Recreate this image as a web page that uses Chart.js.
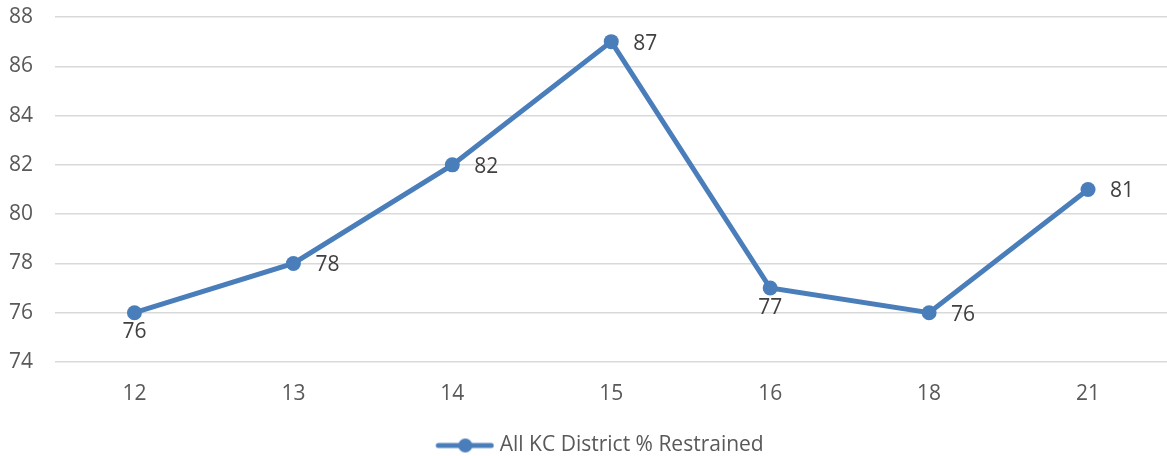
<!DOCTYPE html>
<html>
<head>
<meta charset="utf-8">
<script src="https://cdn.jsdelivr.net/npm/chart.js@4/dist/chart.umd.min.js"></script>
<style>
  html, body { margin: 0; padding: 0; background: #fff; overflow: hidden; }
  #wrap { width: 1175px; height: 456px; }
</style>
</head>
<body>
<div id="wrap"><canvas id="chart"></canvas></div>
<script>
const categories = ['12', '13', '14', '15', '16', '18', '21'];
const restrained = [76, 78, 82, 87, 77, 76, 81];
const seriesName = 'All KC District % Restrained';
// where each value label sits relative to its point
const labelSides = ['below', 'right', 'right', 'right', 'below', 'right', 'right'];

const blue = '#4a7ebb';
const textGray = '#595959';
const fontFamily = "'Open Sans', 'Noto Sans', sans-serif";
const fontSize = 21;

// legend marker: short line with a dot in the middle (transparent room on the left)
function legendMarker() {
    const c = document.createElement('canvas');
    c.width = 88; c.height = 16;
    const g = c.getContext('2d');
    g.strokeStyle = blue;
    g.lineWidth = 5;
    g.lineCap = 'round';
    g.beginPath();
    g.moveTo(32, 8); g.lineTo(85, 8);
    g.stroke();
    g.fillStyle = blue;
    g.beginPath();
    g.arc(59, 8, 7, 0, Math.PI * 2);
    g.fill();
    return c;
}

const valueLabels = {
    id: 'valueLabels',
    afterDatasetsDraw(chart) {
        const ctx = chart.ctx;
        const meta = chart.getDatasetMeta(0);
        ctx.save();
        ctx.font = fontSize + 'px ' + fontFamily;
        ctx.fillStyle = '#404040';
        meta.data.forEach((pt, i) => {
            const v = chart.data.datasets[0].data[i];
            if (labelSides[i] === 'below') {
                ctx.textAlign = 'center';
                ctx.textBaseline = 'top';
                ctx.fillText(v, pt.x, pt.y + 9);
            } else {
                ctx.textAlign = 'left';
                ctx.textBaseline = 'middle';
                ctx.fillText(v, pt.x + 22, pt.y + 2);
            }
        });
        ctx.restore();
    }
};

new Chart(document.getElementById('chart'), {
    type: 'line',
    data: {
        labels: categories,
        datasets: [{
            label: seriesName,
            data: restrained,
            borderColor: blue,
            backgroundColor: blue,
            borderWidth: 5,
            pointRadius: 7.5,
            pointStyle: 'circle',
            pointBackgroundColor: blue,
            pointBorderWidth: 0,
            tension: 0
        }]
    },
    options: {
        responsive: true,
        maintainAspectRatio: false,
        animation: false,
        layout: { padding: { top: 17, right: 0, left: 0, bottom: -10 } },
        plugins: {
            tooltip: { enabled: false },
            legend: {
                position: 'bottom',
                labels: {
                    usePointStyle: true,
                    pointStyleWidth: 78,
                    color: textGray,
                    font: { size: fontSize, family: fontFamily },
                    padding: 0,
                    generateLabels(chart) {
                        return [{
                            text: seriesName,
                            pointStyle: legendMarker(),
                            fillStyle: blue,
                            strokeStyle: blue,
                            lineWidth: 0,
                            datasetIndex: 0,
                            fontColor: textGray
                        }];
                    }
                }
            }
        },
        scales: {
            x: {
                offset: true,
                grid: { display: false },
                border: { display: false },
                ticks: { color: textGray, font: { size: fontSize, family: fontFamily }, padding: 11 },
                afterFit(s) { s.height = 73; }
            },
            y: {
                min: 74,
                max: 88,
                ticks: { stepSize: 2, color: textGray, font: { size: fontSize, family: fontFamily }, padding: 22 },
                grid: { color: '#d9d9d9', lineWidth: 1.5, drawTicks: false },
                border: { display: false },
                afterFit(s) { s.width = 55; s.paddingTop = 0; s.paddingBottom = 0; }
            }
        }
    },
    plugins: [valueLabels]
});
</script>
</body>
</html>
